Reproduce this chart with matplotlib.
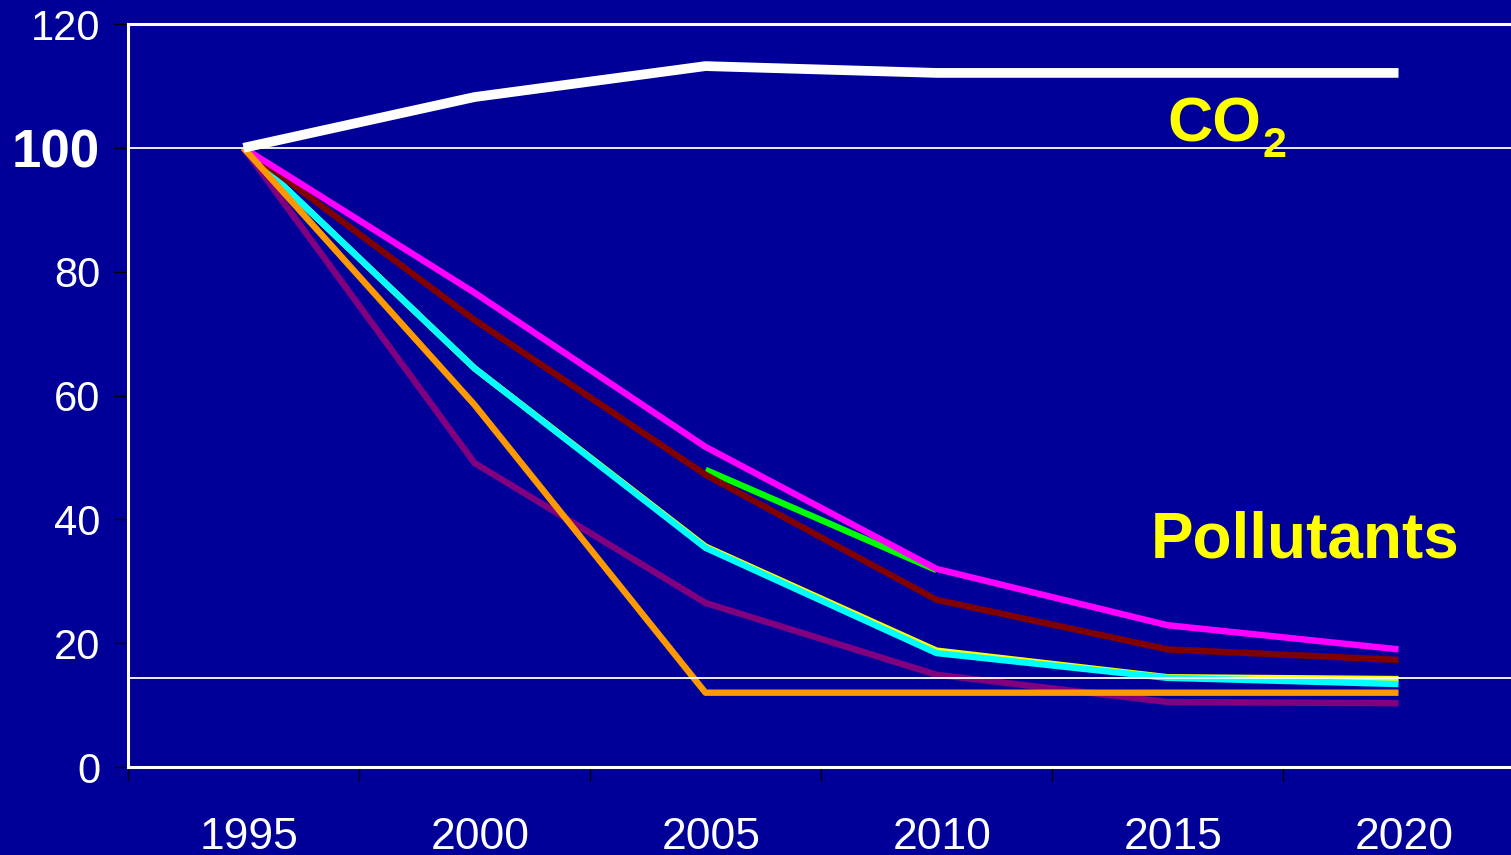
import matplotlib.pyplot as plt
import matplotlib.transforms as mtransforms
import numpy as np

plt.rcParams['font.family'] = ['Liberation Sans', 'DejaVu Sans']

years = ['1995', '2000', '2005', '2010', '2015', '2020']
co2 = [100, 108.2, 113.2, 112.1, 112.1, 112.1]
yellow = [100, 64.4, 35.6, 18.8, 14.5, 14.2]
green = [np.nan, np.nan, 48.0, 31.8, np.nan, np.nan]
purple = [100, 49.1, 26.5, 14.9, 10.5, 10.3]
cyan = [100, 64.4, 35.4, 18.4, 14.4, 13.4]
darkred = [100, 72.2, 47.2, 27.0, 19.0, 17.3]
magenta = [100, 76.6, 51.7, 32.0, 22.9, 19.0]
orange = [100, 58.5, 12.0, 12.0, 12.0, 12.0]
ref_lines = [100, 14.3]
yticks = [0, 20, 40, 60, 80, 100, 120]

bg = '#000099'
W, H = 1511, 855
fig = plt.figure(figsize=(W / 100, H / 100), dpi=100, facecolor=bg)
ax = fig.add_axes([128 / W, 1 - 767 / H, 1 - 128 / W + 0.002, (767 - 24) / H])
ax.set_facecolor(bg)

x = np.arange(len(years))
series = [
    (yellow, '#FFFF00'),
    (green, '#00FF00'),
    (purple, '#800080'),
    (cyan, '#00FFFF'),
    (darkred, '#800000'),
    (magenta, '#FF00FF'),
    (orange, '#FF9900'),
]
for vals, col in series:
    ax.plot(x, vals, color=col, lw=4.6, solid_capstyle='butt', zorder=3)
ax.plot(x, co2, color='white', lw=7, solid_capstyle='butt', zorder=3)

for v in ref_lines:
    ax.axhline(v, color='white', lw=1.3, zorder=4)

ax.set_xlim(-0.5, 5.5)
ax.set_ylim(0, 120)

for side in ['left', 'bottom', 'top']:
    ax.spines[side].set_color('white')
    ax.spines[side].set_linewidth(2.2)
ax.spines['right'].set_visible(False)

ax.set_yticks(yticks)
ax.set_yticklabels([str(v) for v in yticks])
ax.tick_params(axis='y', direction='out', length=10, width=1, color='black',
               labelcolor='white', labelsize=30, pad=10)
for lab in ax.get_yticklabels():
    if lab.get_text() == '100':
        lab.set_fontweight('bold')
        lab.set_fontsize(38)

ax.set_xticks(np.arange(-0.5, 6, 1))
ax.set_xticklabels([])
ax.set_xticks(x, minor=True)
ax.set_xticklabels(years, minor=True)
ax.tick_params(axis='x', which='major', direction='out', length=10, width=1, color='black')
ax.tick_params(axis='x', which='minor', length=0, labelcolor='white', labelsize=32, pad=36)
shift = mtransforms.ScaledTranslation(6 / 100, 0, fig.dpi_scale_trans)
for lab in ax.get_xticklabels(minor=True):
    lab.set_transform(lab.get_transform() + shift)

fig.text(1167 / W, 1 - 141 / H, 'CO', color='#FFFF00', fontsize=45,
         fontweight='bold', va='baseline', ha='left')
fig.text(1262 / W, 1 - 157 / H, '2', color='#FFFF00', fontsize=31,
         fontweight='bold', va='baseline', ha='left')
fig.text(1151 / W, 1 - 557 / H, 'Pollutants', color='#FFFF00', fontsize=46,
         fontweight='bold', va='baseline', ha='left')

fig.savefig('out.png', dpi=100, facecolor=bg)
